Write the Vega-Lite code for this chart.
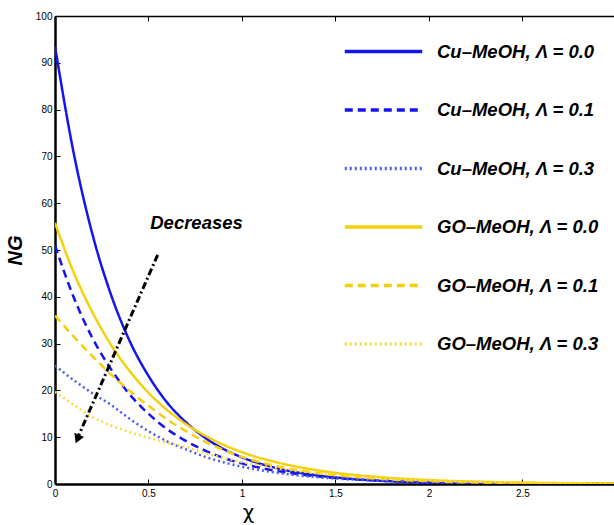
{
  "$schema": "https://vega.github.io/schema/vega-lite/v6.json",
  "width": 559,
  "height": 468,
  "autosize": {"type": "none"},
  "padding": {"left": 55, "top": 16, "right": 0, "bottom": 41},
  "background": "white",
  "config": {
    "view": {"stroke": null},
    "axis": {"grid": false, "domainColor": "black", "tickColor": "black", "labelColor": "black", "titleColor": "black", "labelFont": "Liberation Sans", "labelFontSize": 10}
  },
  "datasets": {
    "curves": [
      {"series": "Cu–MeOH, Λ = 0.0", "x": 0, "ng": 93.5},
      {"series": "Cu–MeOH, Λ = 0.0", "x": 0.1, "ng": 70.7},
      {"series": "Cu–MeOH, Λ = 0.0", "x": 0.2, "ng": 53.4},
      {"series": "Cu–MeOH, Λ = 0.0", "x": 0.3, "ng": 40.4},
      {"series": "Cu–MeOH, Λ = 0.0", "x": 0.4, "ng": 30.5},
      {"series": "Cu–MeOH, Λ = 0.0", "x": 0.5, "ng": 23.1},
      {"series": "Cu–MeOH, Λ = 0.0", "x": 0.6, "ng": 17.4},
      {"series": "Cu–MeOH, Λ = 0.0", "x": 0.7, "ng": 13.2},
      {"series": "Cu–MeOH, Λ = 0.0", "x": 0.8, "ng": 9.96},
      {"series": "Cu–MeOH, Λ = 0.0", "x": 0.9, "ng": 7.5},
      {"series": "Cu–MeOH, Λ = 0.0", "x": 1.0, "ng": 5.7},
      {"series": "Cu–MeOH, Λ = 0.0", "x": 1.2, "ng": 3.25},
      {"series": "Cu–MeOH, Λ = 0.0", "x": 1.4, "ng": 1.85},
      {"series": "Cu–MeOH, Λ = 0.0", "x": 1.6, "ng": 1.06},
      {"series": "Cu–MeOH, Λ = 0.0", "x": 1.8, "ng": 0.6},
      {"series": "Cu–MeOH, Λ = 0.0", "x": 2.0, "ng": 0.35},
      {"series": "Cu–MeOH, Λ = 0.0", "x": 2.5, "ng": 0.085},
      {"series": "Cu–MeOH, Λ = 0.0", "x": 3.0, "ng": 0.02},
      {"series": "Cu–MeOH, Λ = 0.1", "x": 0, "ng": 51},
      {"series": "Cu–MeOH, Λ = 0.1", "x": 0.1, "ng": 39.9},
      {"series": "Cu–MeOH, Λ = 0.1", "x": 0.2, "ng": 31.2},
      {"series": "Cu–MeOH, Λ = 0.1", "x": 0.3, "ng": 24.5},
      {"series": "Cu–MeOH, Λ = 0.1", "x": 0.4, "ng": 19.1},
      {"series": "Cu–MeOH, Λ = 0.1", "x": 0.5, "ng": 15.0},
      {"series": "Cu–MeOH, Λ = 0.1", "x": 0.6, "ng": 11.7},
      {"series": "Cu–MeOH, Λ = 0.1", "x": 0.7, "ng": 9.2},
      {"series": "Cu–MeOH, Λ = 0.1", "x": 0.8, "ng": 7.2},
      {"series": "Cu–MeOH, Λ = 0.1", "x": 0.9, "ng": 5.6},
      {"series": "Cu–MeOH, Λ = 0.1", "x": 1.0, "ng": 4.4},
      {"series": "Cu–MeOH, Λ = 0.1", "x": 1.2, "ng": 2.7},
      {"series": "Cu–MeOH, Λ = 0.1", "x": 1.4, "ng": 1.65},
      {"series": "Cu–MeOH, Λ = 0.1", "x": 1.6, "ng": 1.0},
      {"series": "Cu–MeOH, Λ = 0.1", "x": 1.8, "ng": 0.62},
      {"series": "Cu–MeOH, Λ = 0.1", "x": 2.0, "ng": 0.38},
      {"series": "Cu–MeOH, Λ = 0.1", "x": 2.5, "ng": 0.11},
      {"series": "Cu–MeOH, Λ = 0.1", "x": 3.0, "ng": 0.03},
      {"series": "Cu–MeOH, Λ = 0.3", "x": 0, "ng": 25.3},
      {"series": "Cu–MeOH, Λ = 0.3", "x": 0.1, "ng": 22.2},
      {"series": "Cu–MeOH, Λ = 0.3", "x": 0.2, "ng": 19.4},
      {"series": "Cu–MeOH, Λ = 0.3", "x": 0.3, "ng": 16.9},
      {"series": "Cu–MeOH, Λ = 0.3", "x": 0.4, "ng": 13.9},
      {"series": "Cu–MeOH, Λ = 0.3", "x": 0.5, "ng": 11.3},
      {"series": "Cu–MeOH, Λ = 0.3", "x": 0.6, "ng": 9.1},
      {"series": "Cu–MeOH, Λ = 0.3", "x": 0.7, "ng": 7.4},
      {"series": "Cu–MeOH, Λ = 0.3", "x": 0.8, "ng": 5.85},
      {"series": "Cu–MeOH, Λ = 0.3", "x": 0.9, "ng": 4.65},
      {"series": "Cu–MeOH, Λ = 0.3", "x": 1.0, "ng": 3.7},
      {"series": "Cu–MeOH, Λ = 0.3", "x": 1.2, "ng": 2.33},
      {"series": "Cu–MeOH, Λ = 0.3", "x": 1.4, "ng": 1.47},
      {"series": "Cu–MeOH, Λ = 0.3", "x": 1.6, "ng": 0.93},
      {"series": "Cu–MeOH, Λ = 0.3", "x": 1.8, "ng": 0.59},
      {"series": "Cu–MeOH, Λ = 0.3", "x": 2.0, "ng": 0.37},
      {"series": "Cu–MeOH, Λ = 0.3", "x": 2.5, "ng": 0.12},
      {"series": "Cu–MeOH, Λ = 0.3", "x": 3.0, "ng": 0.04},
      {"series": "GO–MeOH, Λ = 0.0", "x": 0, "ng": 55.8},
      {"series": "GO–MeOH, Λ = 0.0", "x": 0.1, "ng": 45.2},
      {"series": "GO–MeOH, Λ = 0.0", "x": 0.2, "ng": 36.7},
      {"series": "GO–MeOH, Λ = 0.0", "x": 0.3, "ng": 29.7},
      {"series": "GO–MeOH, Λ = 0.0", "x": 0.4, "ng": 24.1},
      {"series": "GO–MeOH, Λ = 0.0", "x": 0.5, "ng": 19.5},
      {"series": "GO–MeOH, Λ = 0.0", "x": 0.6, "ng": 15.8},
      {"series": "GO–MeOH, Λ = 0.0", "x": 0.7, "ng": 12.8},
      {"series": "GO–MeOH, Λ = 0.0", "x": 0.8, "ng": 10.4},
      {"series": "GO–MeOH, Λ = 0.0", "x": 0.9, "ng": 8.4},
      {"series": "GO–MeOH, Λ = 0.0", "x": 1.0, "ng": 6.8},
      {"series": "GO–MeOH, Λ = 0.0", "x": 1.2, "ng": 4.5},
      {"series": "GO–MeOH, Λ = 0.0", "x": 1.4, "ng": 2.95},
      {"series": "GO–MeOH, Λ = 0.0", "x": 1.6, "ng": 1.94},
      {"series": "GO–MeOH, Λ = 0.0", "x": 1.8, "ng": 1.27},
      {"series": "GO–MeOH, Λ = 0.0", "x": 2.0, "ng": 0.84},
      {"series": "GO–MeOH, Λ = 0.0", "x": 2.5, "ng": 0.29},
      {"series": "GO–MeOH, Λ = 0.0", "x": 3.0, "ng": 0.1},
      {"series": "GO–MeOH, Λ = 0.1", "x": 0, "ng": 36},
      {"series": "GO–MeOH, Λ = 0.1", "x": 0.1, "ng": 31.5},
      {"series": "GO–MeOH, Λ = 0.1", "x": 0.2, "ng": 27.3},
      {"series": "GO–MeOH, Λ = 0.1", "x": 0.3, "ng": 23.4},
      {"series": "GO–MeOH, Λ = 0.1", "x": 0.4, "ng": 19.9},
      {"series": "GO–MeOH, Λ = 0.1", "x": 0.5, "ng": 16.7},
      {"series": "GO–MeOH, Λ = 0.1", "x": 0.6, "ng": 13.8},
      {"series": "GO–MeOH, Λ = 0.1", "x": 0.7, "ng": 11.3},
      {"series": "GO–MeOH, Λ = 0.1", "x": 0.8, "ng": 9.1},
      {"series": "GO–MeOH, Λ = 0.1", "x": 0.9, "ng": 7.3},
      {"series": "GO–MeOH, Λ = 0.1", "x": 1.0, "ng": 5.8},
      {"series": "GO–MeOH, Λ = 0.1", "x": 1.2, "ng": 3.7},
      {"series": "GO–MeOH, Λ = 0.1", "x": 1.4, "ng": 2.35},
      {"series": "GO–MeOH, Λ = 0.1", "x": 1.6, "ng": 1.5},
      {"series": "GO–MeOH, Λ = 0.1", "x": 1.8, "ng": 0.95},
      {"series": "GO–MeOH, Λ = 0.1", "x": 2.0, "ng": 0.6},
      {"series": "GO–MeOH, Λ = 0.1", "x": 2.5, "ng": 0.2},
      {"series": "GO–MeOH, Λ = 0.1", "x": 3.0, "ng": 0.07},
      {"series": "GO–MeOH, Λ = 0.3", "x": 0, "ng": 19.7},
      {"series": "GO–MeOH, Λ = 0.3", "x": 0.1, "ng": 16.9},
      {"series": "GO–MeOH, Λ = 0.3", "x": 0.2, "ng": 14.3},
      {"series": "GO–MeOH, Λ = 0.3", "x": 0.3, "ng": 12.5},
      {"series": "GO–MeOH, Λ = 0.3", "x": 0.4, "ng": 11.1},
      {"series": "GO–MeOH, Λ = 0.3", "x": 0.5, "ng": 9.9},
      {"series": "GO–MeOH, Λ = 0.3", "x": 0.6, "ng": 8.8},
      {"series": "GO–MeOH, Λ = 0.3", "x": 0.7, "ng": 7.9},
      {"series": "GO–MeOH, Λ = 0.3", "x": 0.8, "ng": 6.6},
      {"series": "GO–MeOH, Λ = 0.3", "x": 0.9, "ng": 5.6},
      {"series": "GO–MeOH, Λ = 0.3", "x": 1.0, "ng": 4.7},
      {"series": "GO–MeOH, Λ = 0.3", "x": 1.2, "ng": 3.3},
      {"series": "GO–MeOH, Λ = 0.3", "x": 1.4, "ng": 2.3},
      {"series": "GO–MeOH, Λ = 0.3", "x": 1.6, "ng": 1.6},
      {"series": "GO–MeOH, Λ = 0.3", "x": 1.8, "ng": 1.1},
      {"series": "GO–MeOH, Λ = 0.3", "x": 2.0, "ng": 0.75},
      {"series": "GO–MeOH, Λ = 0.3", "x": 2.5, "ng": 0.3},
      {"series": "GO–MeOH, Λ = 0.3", "x": 3.0, "ng": 0.1}
    ],
    "arrow": [
      {"x": 0.116, "ng": 9.4},
      {"x": 0.553, "ng": 49.3}
    ],
    "arrowhead": [
      {"x": 0.12, "ng": 9.6}
    ],
    "note": [
      {"x": 0.757, "ng": 55.8, "label": "Decreases"}
    ]
  },
  "layer": [
    {
      "data": {"name": "curves"},
      "mark": {"type": "line", "interpolate": "monotone", "clip": true, "strokeWidth": 2.5},
      "encoding": {
        "x": {
          "field": "x", "type": "quantitative",
          "scale": {"domain": [0, 2.99], "nice": false, "zero": false},
          "axis": {
            "orient": "bottom", "values": [0, 0.5, 1, 1.5, 2, 2.5], "format": "~g", "title": "χ",
            "titleFont": "DejaVu Sans", "titleFontSize": 20, "titleFontWeight": "normal",
            "titleX": 193, "titleY": 28, "titleBaseline": "middle",
            "domainWidth": 2.5, "tickSize": -5, "tickWidth": 1, "labelPadding": 9, "labelFlush": false
          }
        },
        "y": {
          "field": "ng", "type": "quantitative",
          "scale": {"domain": [0, 100], "nice": false},
          "axis": {
            "values": [0, 10, 20, 30, 40, 50, 60, 70, 80, 90, 100], "title": "NG",
            "titleFont": "Liberation Sans", "titleFontSize": 20, "titleFontWeight": "bold", "titleFontStyle": "italic",
            "titleX": -40, "titleY": 234, "titleBaseline": "middle", "titleAngle": -90,
            "domainWidth": 2.5, "tickSize": -5, "tickWidth": 1, "labelPadding": 8, "labelFlush": false
          }
        },
        "color": {
          "field": "series", "type": "nominal",
          "scale": {
            "domain": ["Cu–MeOH, Λ = 0.0", "Cu–MeOH, Λ = 0.1", "Cu–MeOH, Λ = 0.3", "GO–MeOH, Λ = 0.0", "GO–MeOH, Λ = 0.1", "GO–MeOH, Λ = 0.3"],
            "range": ["#1414f0", "#1414f0", "#4a5cf5", "#f5d00a", "#f5d00a", "#f7dc40"]
          },
          "legend": {
            "orient": "none", "legendX": 288, "legendY": -5, "title": null,
            "symbolType": "stroke", "symbolSize": 6000, "symbolStrokeWidth": 3.5,
            "labelFont": "Liberation Sans", "labelFontSize": 18.5, "labelFontStyle": "italic", "labelFontWeight": "bold",
            "labelColor": "black", "labelOffset": 13, "labelLimit": 300, "rowPadding": 8.5
          }
        },
        "strokeDash": {
          "field": "series", "type": "nominal",
          "scale": {
            "domain": ["Cu–MeOH, Λ = 0.0", "Cu–MeOH, Λ = 0.1", "Cu–MeOH, Λ = 0.3", "GO–MeOH, Λ = 0.0", "GO–MeOH, Λ = 0.1", "GO–MeOH, Λ = 0.3"],
            "range": [[1, 0], [8, 5], [2, 3], [1, 0], [8, 5], [2, 3]]
          }
        }
      }
    },
    {
      "data": {"name": "arrow"},
      "mark": {"type": "line", "color": "black", "strokeWidth": 3, "strokeDash": [7, 3, 2, 3]},
      "encoding": {
        "x": {"field": "x", "type": "quantitative", "axis": {"orient": "top", "labels": false, "title": null, "values": [0, 0.5, 1, 1.5, 2, 2.5], "domainWidth": 1.5, "tickSize": -5, "tickWidth": 1}},
        "y": {"field": "ng", "type": "quantitative"}
      }
    },
    {
      "data": {"name": "arrowhead"},
      "mark": {"type": "point", "shape": "triangle-down", "filled": true, "color": "black", "size": 110, "angle": 23.6, "opacity": 1},
      "encoding": {
        "x": {"field": "x", "type": "quantitative", "axis": null},
        "y": {"field": "ng", "type": "quantitative"}
      }
    },
    {
      "data": {"name": "note"},
      "mark": {"type": "text", "font": "Liberation Sans", "fontSize": 18.5, "fontStyle": "italic", "fontWeight": "bold", "color": "black", "align": "center", "baseline": "middle"},
      "encoding": {
        "x": {"field": "x", "type": "quantitative", "axis": null},
        "y": {"field": "ng", "type": "quantitative"},
        "text": {"field": "label"}
      }
    }
  ],
  "resolve": {"axis": {"x": "independent"}}
}
